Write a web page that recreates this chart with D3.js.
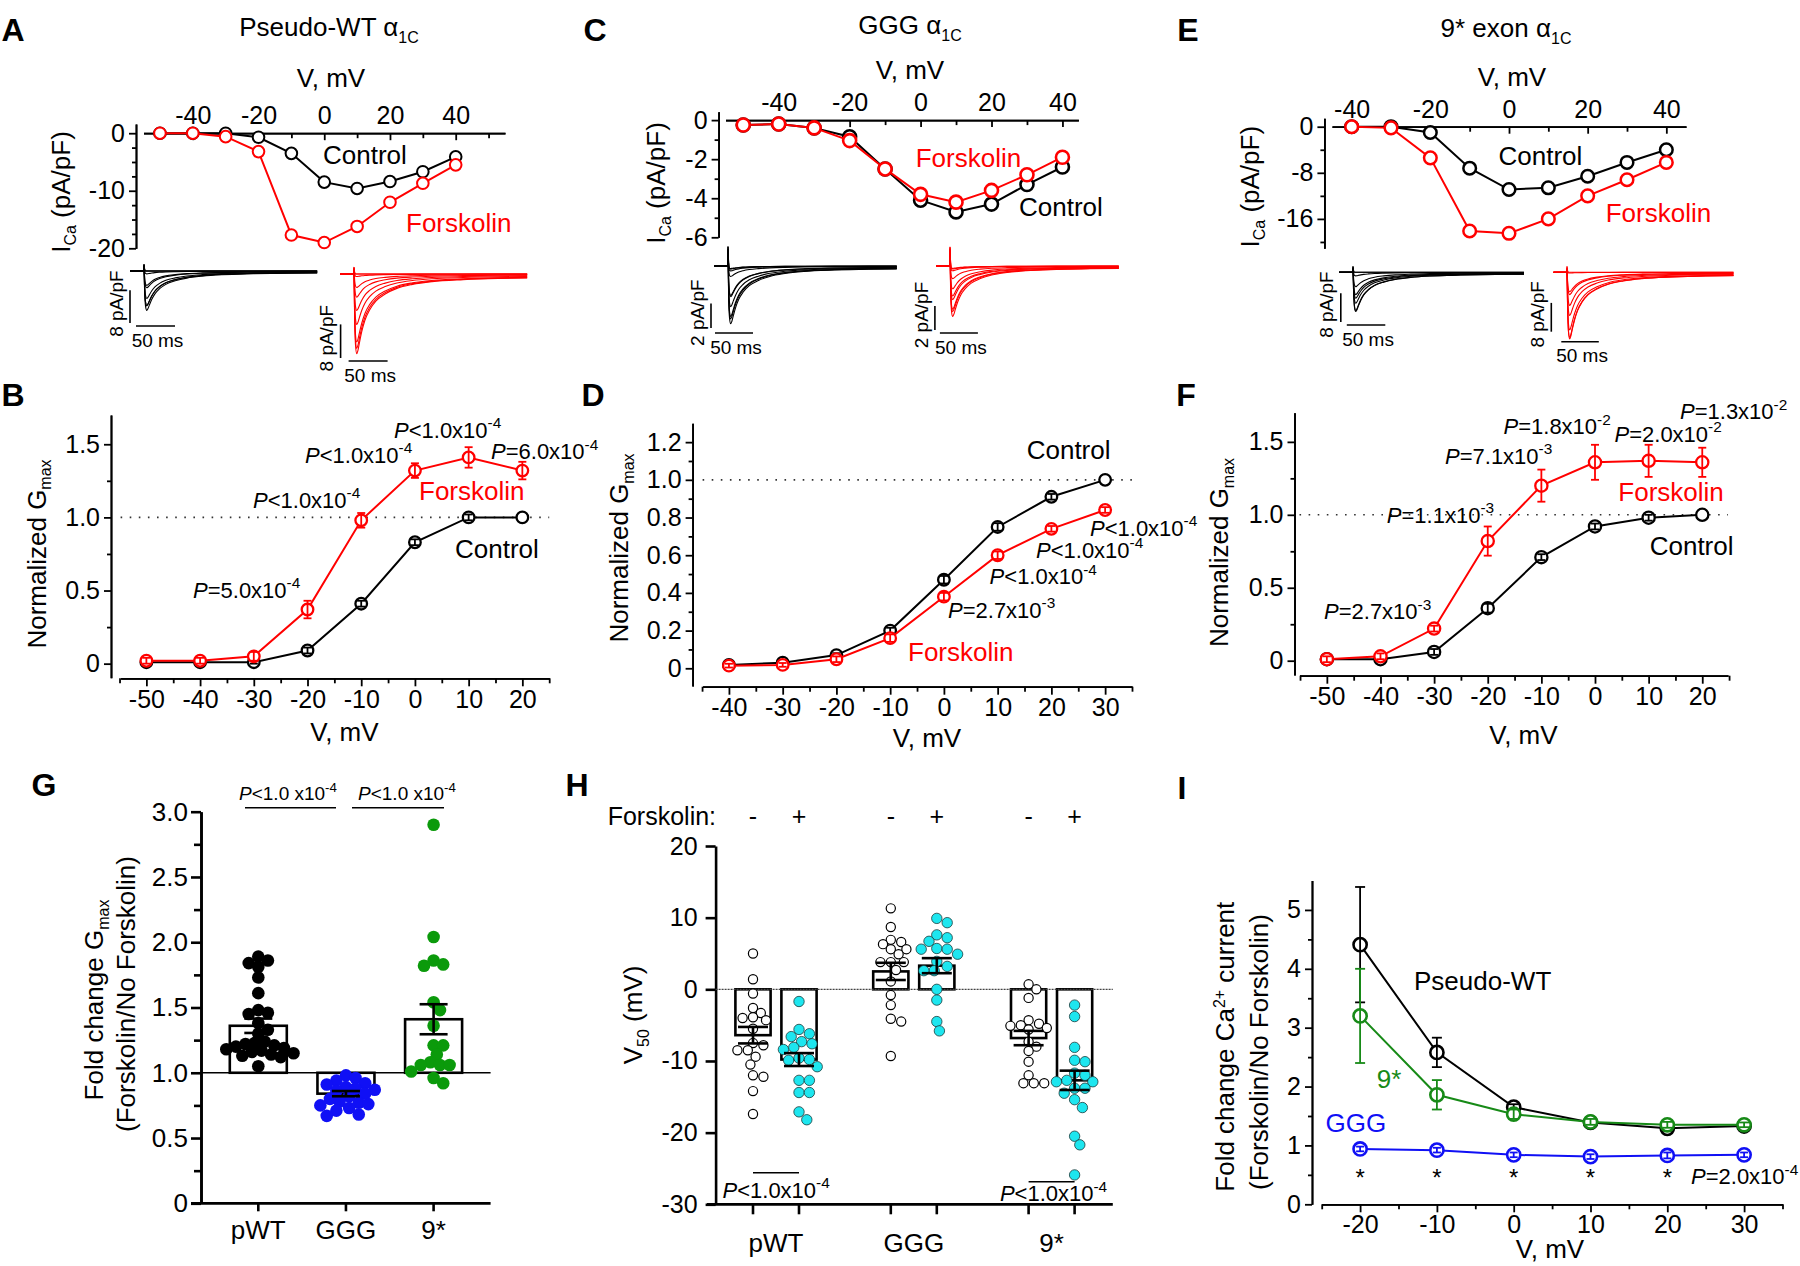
<!DOCTYPE html>
<html>
<head>
<meta charset="utf-8">
<script src="https://cdn.jsdelivr.net/npm/d3@7"></script>
<style>
body { margin: 0; background: #fff; }
svg { display: block; }
text { font-family: "Liberation Sans", Arial, Helvetica, sans-serif; }
</style>
</head>
<body>
<div id="chart"></div>
<script>
// ---- I-V data (pA/pF) ----
const ivVolts = [-50, -40, -30, -20, -10, 0, 10, 20, 30, 40]
const ivWtCtrl = [0, 0, 0, -0.7, -3.5, -8.5, -9.6, -8.4, -6.7, -4.1]
const ivWtFsk = [0, 0, -0.6, -3.2, -17.7, -19, -16.2, -12, -8.7, -5.5]
const ivGggCtrl = [-0.25, -0.2, -0.4, -0.85, -2.5, -4.1, -4.7, -4.3, -3.3, -2.4]
const ivGggFsk = [-0.25, -0.2, -0.4, -1.05, -2.5, -3.8, -4.2, -3.6, -2.8, -1.9]
const ivExVolts = [-40, -30, -20, -10, 0, 10, 20, 30, 40]
const ivExCtrl = [0, 0, -1, -7.2, -10.9, -10.6, -8.6, -6.2, -4]
const ivExFsk = [0, -0.2, -5.4, -18.1, -18.5, -16, -12, -9.2, -6.2]

// normalised current time course
const traceMs = [-18, -0.5, 0, 0.8, 2, 3.5, 5, 7, 10, 14, 20, 28, 40, 55, 75, 100, 140, 185, 222]
const traceShape = [0, 0, 0.1, 0.55, 0.9, 1.0, 0.96, 0.86, 0.72, 0.58, 0.45, 0.34, 0.25, 0.18, 0.13, 0.095, 0.07, 0.055, 0.05]
const traceSpike = [0, 0, 1.6, 0.4, 0, 0, 0, 0, 0, 0, 0, 0, 0, 0, 0, 0, 0, 0, 0]

// ---- normalized Gmax ----
const gvWtVolts = [-50, -40, -30, -20, -10, 0, 10, 20]
const gvWtCtrl = [0.01, 0.01, 0.01, 0.09, 0.41, 0.83, 1.0, 1.0]
const gvWtCtrlErr = [0.01, 0.01, 0.01, 0.02, 0.02, 0.02, 0.02, 0]
const gvWtFsk = [0.02, 0.02, 0.05, 0.37, 0.98, 1.32, 1.41, 1.32]
const gvWtFskErr = [0.02, 0.02, 0.03, 0.06, 0.05, 0.05, 0.07, 0.06]
const gvGggVolts = [-40, -30, -20, -10, 0, 10, 20, 30]
const gvGggCtrl = [0.018, 0.03, 0.07, 0.2, 0.47, 0.75, 0.91, 1.0]
const gvGggCtrlErr = [0.01, 0.01, 0.01, 0.015, 0.02, 0.02, 0.015, 0]
const gvGggFsk = [0.014, 0.018, 0.048, 0.16, 0.38, 0.6, 0.74, 0.84]
const gvGggFskErr = [0.01, 0.01, 0.015, 0.02, 0.02, 0.02, 0.015, 0.015]
const gvExVolts = [-50, -40, -30, -20, -10, 0, 10, 20]
const gvExCtrl = [0.01, 0.01, 0.06, 0.36, 0.71, 0.92, 0.98, 1.0]
const gvExCtrlErr = [0.01, 0.01, 0.02, 0.03, 0.02, 0.02, 0.02, 0]
const gvExFsk = [0.01, 0.03, 0.22, 0.82, 1.2, 1.36, 1.37, 1.36]
const gvExFskErr = [0.02, 0.02, 0.02, 0.1, 0.11, 0.12, 0.11, 0.1]

// P-value labels
const pB = [['=', '5.0', '-4'], ['<', '1.0', '-4'], ['<', '1.0', '-4'], ['<', '1.0', '-4'], ['=', '6.0', '-4']]
const pD = [['=', '2.7', '-3'], ['<', '1.0', '-4'], ['<', '1.0', '-4'], ['<', '1.0', '-4']]
const pF = [['=', '2.7', '-3'], ['=', '1.1', '-3'], ['=', '7.1', '-3'], ['=', '1.8', '-2'], ['=', '2.0', '-2'], ['=', '1.3', '-2']]

// ---- G: fold change Gmax ----
const gCats = ['pWT', 'GGG', '9*']
const gMean = [1.36, 0.84, 1.41]
const gErr = [0.055, 0.02, 0.115]
const gPwt = [1.89, 1.86, 1.84, 1.81, 1.73, 1.61, 1.48, 1.46, 1.45, 1.38, 1.33, 1.30, 1.24, 1.23, 1.22, 1.21, 1.20, 1.19, 1.18, 1.17, 1.16, 1.15, 1.14, 1.13, 1.12, 1.05]
const gGgg = [0.98, 0.96, 0.94, 0.92, 0.91, 0.89, 0.88, 0.87, 0.86, 0.84, 0.82, 0.80, 0.78, 0.77, 0.76, 0.75, 0.73, 0.71, 0.68, 0.67]
const gEx = [2.90, 2.04, 1.86, 1.83, 1.82, 1.54, 1.48, 1.36, 1.21, 1.21, 1.14, 1.08, 1.06, 1.06, 1.06, 1.01, 0.96, 0.92]

// ---- H: V50 ----
const hGroups = ['pWT', 'GGG', '9*']
const hMean = [-6.4, -9.8, 2.5, 3.3, -6.8, -12.7]
const hErr = [1.15, 0.9, 1.2, 1.05, 1.0, 1.35]
const hPwtMinus = [5.0, 1.4, -0.6, -2.6, -3.3, -3.9, -4.0, -4.3, -5.5, -7.5, -7.8, -8.5, -8.5, -9.4, -10.5, -12.0, -12.2, -14.2, -17.4]
const hPwtPlus = [-1.7, -5.6, -6.2, -6.6, -7.3, -7.6, -8.1, -8.4, -9.6, -9.8, -9.9, -10.8, -12.7, -12.7, -14.4, -14.4, -17.1, -18.2]
const hGggMinus = [11.3, 8.7, 6.9, 6.6, 6.3, 5.6, 5.6, 4.9, 3.8, 3.8, 3.8, 2.7, 1.1, -0.8, -2.2, -4.1, -4.5, -9.3]
const hGggPlus = [9.9, 9.3, 7.6, 7.2, 6.7, 5.7, 5.6, 5.6, 4.9, 3.9, 3.2, 2.6, 2.6, 0.0, -1.5, -4.5, -5.8]
const hExMinus = [0.7, 0.0, -1.2, -4.3, -4.8, -5.0, -5.1, -5.4, -5.6, -7.3, -8.0, -8.6, -10.1, -12.0, -13.1, -13.1, -13.1]
const hExPlus = [-2.2, -3.8, -8.1, -9.9, -10.1, -11.7, -12.0, -12.7, -12.9, -12.9, -13.8, -13.8, -14.5, -15.4, -16.5, -20.5, -21.7, -25.9]

// ---- I: fold change current ----
const iVolts = [-20, -10, 0, 10, 20, 30]
const iWt = [4.41, 2.58, 1.65, 1.39, 1.29, 1.33]
const iWtErr = [0.98, 0.25, 0.05, 0.05, 0.04, 0.04]
const iEx = [3.2, 1.86, 1.53, 1.4, 1.35, 1.35]
const iExErr = [0.8, 0.25, 0.08, 0.05, 0.05, 0.04]
const iGgg = [0.94, 0.92, 0.84, 0.81, 0.83, 0.84]
const iGggErr = [0.04, 0.04, 0.04, 0.04, 0.05, 0.04]

const RED = '#ff0000', BLUE = '#1010f5', GREEN = '#0b9a0b', IGREEN = '#178a17', CYAN = '#1de6ef'

const svg = d3.select('#chart').append('svg').attr('width', 1800).attr('height', 1266)

const txt = (x, y, s, o = {}) => svg.append('text').attr('x', x).attr('y', y).attr('dy', '0.35em')
  .attr('font-size', o.size || 26).attr('fill', o.color || '#000').attr('text-anchor', o.anchor || 'start').text(s)

const letter = (s, x, y) => svg.append('text').attr('x', x).attr('y', y).attr('dy', '0.35em')
  .attr('text-anchor', 'middle').attr('font-size', 32).attr('font-weight', 'bold').text(s)

const pText = (x, y, p, size = 22) => {
  const t = svg.append('text').attr('x', x).attr('y', y).attr('dy', '0.35em').attr('font-size', size)
  t.append('tspan').attr('font-style', 'italic').text('P')
  t.append('tspan').text(p[0] + p[1] + 'x10')
  t.append('tspan').attr('dy', -size * 0.42).attr('font-size', size * 0.7).text(p[2])
}

const title = (cx, cy, s) => {
  const t = svg.append('text').attr('x', cx).attr('y', cy).attr('dy', '0.35em').attr('text-anchor', 'middle').attr('font-size', 26)
  t.append('tspan').text(s + ' α')
  t.append('tspan').attr('dy', 7).attr('font-size', 16).text('1C')
}

const rotLabel = (x, y, parts, size = 26) => {
  const t = svg.append('text').attr('transform', `translate(${x},${y}) rotate(-90)`)
    .attr('text-anchor', 'middle').attr('dy', '0.35em').attr('font-size', size)
  parts.forEach(p => {
    const s = t.append('tspan').text(p.t)
    if (p.dy) s.attr('dy', p.dy)
    if (p.fs) s.attr('font-size', p.fs)
  })
}

const fmt = d => String(d)
const fmt1 = d => d === 0 ? '0' : d.toFixed(1)

const styleAxis = (sel, w = 1.8, size = 25) => {
  sel.attr('font-size', size)
  sel.selectAll('path, line').attr('stroke', '#000').attr('stroke-width', w)
  sel.selectAll('text').attr('fill', '#000')
}

function series(g, x, y, xs, ys, errs, color, r, sw, cap = 4) {
  const pts = xs.map((v, i) => ({ v, m: ys[i], e: errs ? errs[i] : 0 }))
  g.append('path').datum(pts).attr('fill', 'none').attr('stroke', color).attr('stroke-width', 2)
    .attr('d', d3.line().x(d => x(d.v)).y(d => y(d.m)))
  g.selectAll(null).data(pts).join('circle')
    .attr('cx', d => x(d.v)).attr('cy', d => y(d.m)).attr('r', r)
    .attr('fill', '#fff').attr('stroke', color).attr('stroke-width', sw)
  if (!errs) return
  const eg = g.append('g').attr('stroke', color).attr('stroke-width', 1.8)
  pts.filter(d => d.e > 0).forEach(d => {
    const cx = x(d.v), lo = y(d.m - d.e), hi = y(d.m + d.e)
    eg.append('line').attr('x1', cx).attr('x2', cx).attr('y1', lo).attr('y2', hi)
    eg.append('line').attr('x1', cx - cap).attr('x2', cx + cap).attr('y1', lo).attr('y2', lo)
    eg.append('line').attr('x1', cx - cap).attr('x2', cx + cap).attr('y1', hi).attr('y2', hi)
  })
}

// ---------- I-V panels with example traces ----------
function traces(f) {
  const g = svg.append('g')
  const tx = d3.scaleLinear().domain([0, 50]).range([f.stepX, f.stepX + 50 * f.pxMs])
  const ty = d3.scaleLinear().domain([0, 1]).range([f.base, f.base + f.pxUnit])
  const line = d3.line().x(d => tx(d[0])).y(d => ty(d[1])).curve(d3.curveMonotoneX)
  f.amps.forEach(a => {
    const pts = traceMs.map((t, i) => [t, Math.abs(a) * traceShape[i] - traceSpike[i]])
    g.append('path').attr('d', line(pts)).attr('fill', 'none').attr('stroke', f.color).attr('stroke-width', 1.1)
  })
  const vTop = f.barY - f.unit * f.pxUnit
  g.append('line').attr('x1', f.barX).attr('x2', f.barX).attr('y1', f.barY).attr('y2', vTop)
    .attr('stroke', '#000').attr('stroke-width', 1.6)
  svg.append('text').attr('transform', `translate(${f.barX - 14},${(f.barY + vTop) / 2 - 3}) rotate(-90)`)
    .attr('text-anchor', 'middle').attr('dy', '0.35em').attr('font-size', 19).text(`${f.unit} pA/pF`)
  const hx0 = f.barX + f.hOff, hx1 = hx0 + 50 * f.pxMs
  g.append('line').attr('x1', hx0).attr('x2', hx1).attr('y1', f.hY).attr('y2', f.hY)
    .attr('stroke', '#000').attr('stroke-width', 1.6)
  txt((hx0 + hx1) / 2 + 2, f.hY + 14, '50 ms', { size: 19, anchor: 'middle' })
}

function ivPanel(o) {
  const g = svg.append('g')
  const x = d3.scaleLinear().domain(o.xDom).range(o.xRange)
  const y = d3.scaleLinear().domain(o.yDom).range(o.yRange)
  const y0 = y(0)
  g.append('g').attr('transform', `translate(0,${y0})`)
    .call(d3.axisTop(x).tickValues(o.xMinor).tickSize(-5).tickFormat('').tickSizeOuter(0)).call(styleAxis)
  g.append('g').attr('transform', `translate(0,${y0})`)
    .call(d3.axisTop(x).tickValues(o.xMajor).tickSize(-7).tickPadding(9).tickSizeOuter(0).tickFormat(fmt)).call(styleAxis)
  g.append('g').attr('transform', `translate(${o.yAxisX},0)`)
    .call(d3.axisLeft(y).tickValues(o.yMinor).tickSize(4).tickFormat('').tickSizeOuter(0)).call(styleAxis)
  g.append('g').attr('transform', `translate(${o.yAxisX},0)`)
    .call(d3.axisLeft(y).tickValues(o.yMajor).tickSize(7).tickPadding(4).tickSizeOuter(0).tickFormat(fmt)).call(styleAxis)
  series(g, x, y, o.volts, o.ctrl, null, '#000', o.r, o.sw)
  series(g, x, y, o.volts, o.fsk, null, RED, o.r, o.sw)
  title(o.title[0], o.title[1], o.title[2])
  txt(o.vLab[0], o.vLab[1], 'V, mV', { anchor: 'middle' })
  rotLabel(o.yLab[0], o.yLab[1], [{ t: 'I' }, { t: 'Ca', dy: 6, fs: 16 }, { t: ' (pA/pF)', dy: -6, fs: 26 }])
  txt(o.ctrlLab[0], o.ctrlLab[1], 'Control')
  txt(o.fskLab[0], o.fskLab[1], 'Forskolin', { color: RED })
  o.traces.forEach(traces)
}

ivPanel({
  xDom: [-55, 55], xRange: [143.5, 505], yDom: [-20, 1.6], yRange: [248.3, 124], yAxisX: 136,
  xMajor: [-40, -20, 0, 20, 40], xMinor: [-50, -30, -10, 10, 30, 50],
  yMajor: [0, -10, -20], yMinor: [-2.5, -5, -7.5, -12.5, -15, -17.5],
  volts: ivVolts, ctrl: ivWtCtrl, fsk: ivWtFsk, r: 5.8, sw: 2,
  title: [329, 27, 'Pseudo-WT'], vLab: [331, 78], yLab: [61, 192],
  ctrlLab: [323, 155], fskLab: [406, 223],
  traces: [
    { amps: ivWtCtrl, color: '#000', stepX: 144, pxMs: 0.78, base: 271, pxUnit: 4.1, unit: 8, barX: 130, barY: 323, hOff: 6, hY: 326 },
    { amps: ivWtFsk, color: RED, stepX: 354, pxMs: 0.78, base: 274, pxUnit: 4.2, unit: 8, barX: 340.6, barY: 358, hOff: 8, hY: 361 }
  ]
})

ivPanel({
  xDom: [-55, 44.5], xRange: [725.5, 1078.4], yDom: [-6, 0.43], yRange: [237.3, 111.7], yAxisX: 718.6,
  xMajor: [-40, -20, 0, 20, 40], xMinor: [-50, -30, -10, 10, 30],
  yMajor: [0, -2, -4, -6], yMinor: [-1, -3, -5],
  volts: ivVolts, ctrl: ivGggCtrl, fsk: ivGggFsk, r: 6.5, sw: 2.6,
  title: [910, 25, 'GGG'], vLab: [910, 70], yLab: [655.5, 183],
  ctrlLab: [1019, 207], fskLab: [915.7, 158],
  traces: [
    { amps: ivGggCtrl, color: '#000', stepX: 728, pxMs: 0.76, base: 266, pxUnit: 12.3, unit: 2, barX: 711, barY: 328, hOff: 4, hY: 333 },
    { amps: ivGggFsk, color: RED, stepX: 950, pxMs: 0.76, base: 266, pxUnit: 12, unit: 2, barX: 934.9, barY: 330, hOff: 5, hY: 333 }
  ]
})

ivPanel({
  xDom: [-45, 45], xRange: [1332, 1686], yDom: [-21.1, 1.46], yRange: [248.3, 118.3], yAxisX: 1324.4,
  xMajor: [-40, -20, 0, 20, 40], xMinor: [-30, -10, 10, 30],
  yMajor: [0, -8, -16], yMinor: [-4, -12, -20],
  volts: ivExVolts, ctrl: ivExCtrl, fsk: ivExFsk, r: 6.3, sw: 2.5,
  title: [1506, 28, '9* exon'], vLab: [1512, 77], yLab: [1249.8, 186.7],
  ctrlLab: [1498.5, 156], fskLab: [1605.7, 212.7],
  traces: [
    { amps: ivExCtrl, color: '#000', stepX: 1353, pxMs: 0.77, base: 272.3, pxUnit: 3.6, unit: 8, barX: 1340.8, barY: 322, hOff: 6, hY: 325 },
    { amps: ivExFsk, color: RED, stepX: 1567, pxMs: 0.75, base: 272.3, pxUnit: 3.6, unit: 8, barX: 1551.3, barY: 331.7, hOff: 10, hY: 341.7 }
  ]
})

// ---------- normalized Gmax panels ----------
function gvPanel(o) {
  const g = svg.append('g')
  const x = d3.scaleLinear().domain(o.xDom).range(o.xRange)
  const y = d3.scaleLinear().domain(o.yDom).range(o.yRange)
  g.append('g').attr('transform', `translate(0,${o.xAxisY})`)
    .call(d3.axisBottom(x).tickValues(o.xMinor).tickSize(5).tickFormat('').tickSizeOuter(0)).call(styleAxis)
  g.append('g').attr('transform', `translate(0,${o.xAxisY})`)
    .call(d3.axisBottom(x).tickValues(o.xMajor).tickSize(8).tickPadding(4).tickSizeOuter(0).tickFormat(fmt)).call(styleAxis)
  g.append('g').attr('transform', `translate(${o.yAxisX},0)`)
    .call(d3.axisLeft(y).tickValues(o.yMinor).tickSize(4).tickFormat('').tickSizeOuter(0)).call(styleAxis)
  g.append('g').attr('transform', `translate(${o.yAxisX},0)`)
    .call(d3.axisLeft(y).tickValues(o.yMajor).tickSize(7).tickPadding(4).tickSizeOuter(0).tickFormat(fmt1)).call(styleAxis)
  g.append('line').attr('x1', o.xRange[0]).attr('x2', o.xRange[1]).attr('y1', y(1)).attr('y2', y(1))
    .attr('stroke', '#333').attr('stroke-width', 1.6).attr('stroke-dasharray', '1.6,7.5')
  series(g, x, y, o.volts, o.ctrl, o.ctrlErr, '#000', o.r, 2.3)
  series(g, x, y, o.volts, o.fsk, o.fskErr, RED, o.r, 2.3)
  txt(o.vLab[0], o.vLab[1], 'V, mV', { anchor: 'middle' })
  rotLabel(o.yLab[0], o.yLab[1], [{ t: 'Normalized G' }, { t: 'max', dy: 6, fs: 16 }])
  txt(o.ctrlLab[0], o.ctrlLab[1], 'Control')
  txt(o.fskLab[0], o.fskLab[1], 'Forskolin', { color: RED })
  o.pPos.forEach((p, i) => pText(p[0], p[1], o.pVals[i]))
}

const tens = (a, b) => d3.range(a, b + 1, 10)

gvPanel({
  xDom: [-54.8, 25], xRange: [120.6, 549.2], yDom: [-0.096, 1.7], yRange: [677.7, 415], yAxisX: 111, xAxisY: 678.3,
  xMajor: tens(-50, 20), xMinor: tens(-55, 25), yMajor: [0, 0.5, 1, 1.5], yMinor: [0.25, 0.75, 1.25],
  volts: gvWtVolts, ctrl: gvWtCtrl, ctrlErr: gvWtCtrlErr, fsk: gvWtFsk, fskErr: gvWtFskErr, r: 5.8,
  vLab: [344.4, 731.7], yLab: [36.4, 554], ctrlLab: [455, 549], fskLab: [419, 491],
  pVals: pB, pPos: [[193, 590], [253, 500], [305, 455], [394, 430], [491, 451.7]]
})

gvPanel({
  xDom: [-44.9, 35], xRange: [702.6, 1132], yDom: [-0.094, 1.3], yRange: [686, 423.3], yAxisX: 692.6, xAxisY: 686.7,
  xMajor: tens(-40, 30), xMinor: tens(-45, 35), yMajor: [0, 0.2, 0.4, 0.6, 0.8, 1.0, 1.2], yMinor: [0.1, 0.3, 0.5, 0.7, 0.9, 1.1],
  volts: gvGggVolts, ctrl: gvGggCtrl, ctrlErr: gvGggCtrlErr, fsk: gvGggFsk, fskErr: gvGggFskErr, r: 5.8,
  vLab: [927, 738], yLab: [619, 548], ctrlLab: [1026.7, 450], fskLab: [908, 651.7],
  pVals: pD, pPos: [[948, 610], [989.6, 576.7], [1036, 550], [1090, 528]]
})

gvPanel({
  xDom: [-55.1, 24.8], xRange: [1299.5, 1728], yDom: [-0.098, 1.7], yRange: [675, 412.7], yAxisX: 1294.5, xAxisY: 675.7,
  xMajor: tens(-50, 20), xMinor: tens(-55, 25), yMajor: [0, 0.5, 1, 1.5], yMinor: [0.25, 0.75, 1.25],
  volts: gvExVolts, ctrl: gvExCtrl, ctrlErr: gvExCtrlErr, fsk: gvExFsk, fskErr: gvExFskErr, r: 6.1,
  vLab: [1523.4, 735], yLab: [1219, 552.5], ctrlLab: [1649.7, 545.7], fskLab: [1618.3, 491.7],
  pVals: pF, pPos: [[1324, 611.7], [1386.8, 515], [1445, 456], [1503.5, 426.7], [1614.5, 434], [1680, 411.7]]
})

// simple dodge so dots of one column do not sit on top of each other
function swarm(vals, y, step, minD) {
  const placed = []
  return vals.map(v => {
    const py = y(v)
    let best = 0
    for (let k = 0; k < 80; k++) {
      const cand = (k % 2 ? 1 : -1) * Math.ceil(k / 2) * step
      if (placed.every(p => Math.hypot(p.dx - cand, p.py - py) >= minD)) { best = cand; break }
    }
    placed.push({ dx: best, py })
    return { v, dx: best, py }
  })
}

// ---------- G ----------
{
  const g = svg.append('g')
  const x = d3.scalePoint().domain(gCats).range([258.3, 433.6])
  const y = d3.scaleLinear().domain([0, 3]).range([1203.3, 811.7])
  g.append('g').attr('transform', 'translate(201,0)')
    .call(d3.axisLeft(y).tickValues(d3.range(0.25, 3, 0.5)).tickSize(7).tickFormat('').tickSizeOuter(0)).call(s => styleAxis(s, 2.6))
  g.append('g').attr('transform', 'translate(201,0)')
    .call(d3.axisLeft(y).tickValues(d3.range(0, 3.01, 0.5)).tickSize(10).tickPadding(3).tickSizeOuter(0).tickFormat(fmt1)).call(s => styleAxis(s, 2.6, 26))
  g.append('line').attr('x1', 191).attr('x2', 490.6).attr('y1', y(0)).attr('y2', y(0)).attr('stroke', '#000').attr('stroke-width', 2.8)
  gCats.forEach(c => g.append('line').attr('x1', x(c)).attr('x2', x(c)).attr('y1', y(0)).attr('y2', y(0) + 8).attr('stroke', '#000').attr('stroke-width', 2.6))
  gCats.forEach(c => txt(x(c), 1230, c, { anchor: 'middle' }))
  gCats.forEach((c, i) => {
    g.append('rect').attr('x', x(c) - 28.5).attr('width', 57)
      .attr('y', Math.min(y(1), y(gMean[i]))).attr('height', Math.abs(y(1) - y(gMean[i])))
      .attr('fill', '#fff').attr('stroke', '#000').attr('stroke-width', 2.6)
  })
  g.append('line').attr('x1', 201).attr('x2', 490.6).attr('y1', y(1)).attr('y2', y(1)).attr('stroke', '#000').attr('stroke-width', 1.6)
  const cols = ['#000', BLUE, GREEN]
  ;[gPwt, gGgg, gEx].forEach((vals, i) => {
    swarm(vals, y, 3.2, 9.5).forEach(d => g.append('circle').attr('cx', x(gCats[i]) + d.dx).attr('cy', d.py)
      .attr('r', 6.3).attr('fill', cols[i]))
  })
  gCats.forEach((c, i) => {
    const lo = y(gMean[i] - gErr[i]), hi = y(gMean[i] + gErr[i]), cx = x(c)
    g.append('line').attr('x1', cx).attr('x2', cx).attr('y1', lo).attr('y2', hi).attr('stroke', '#000').attr('stroke-width', 2.6)
    ;[lo, hi].forEach(yy => g.append('line').attr('x1', cx - 14).attr('x2', cx + 14).attr('y1', yy).attr('y2', yy).attr('stroke', '#000').attr('stroke-width', 2.6))
  })
  pText(239, 793, ['<', '1.0 ', '-4'], 19)
  pText(358, 793, ['<', '1.0 ', '-4'], 19)
  g.append('line').attr('x1', 245).attr('x2', 336).attr('y1', 807.7).attr('y2', 807.7).attr('stroke', '#000').attr('stroke-width', 1.5)
  g.append('line').attr('x1', 352).attr('x2', 444).attr('y1', 807.7).attr('y2', 807.7).attr('stroke', '#000').attr('stroke-width', 1.5)
  rotLabel(93.8, 1000, [{ t: 'Fold change G' }, { t: 'max', dy: 6, fs: 16 }])
  rotLabel(126.3, 994, [{ t: '(Forskolin/No Forskolin)' }])
}

// ---------- H ----------
{
  const g = svg.append('g')
  const gx = d3.scalePoint().domain(hGroups).range([776, 1051.6])
  const y = d3.scaleLinear().domain([-30, 20]).range([1204.3, 846])
  const bars = []
  hGroups.forEach(c => { bars.push({ c, s: '-', x: gx(c) - 23 }); bars.push({ c, s: '+', x: gx(c) + 23 }) })
  const sets = [hPwtMinus, hPwtPlus, hGggMinus, hGggPlus, hExMinus, hExPlus]
  g.append('g').attr('transform', 'translate(715.6,0)')
    .call(d3.axisLeft(y).tickValues(d3.range(-30, 21, 10)).tickSize(10).tickPadding(8).tickSizeOuter(0).tickFormat(fmt)).call(s => styleAxis(s, 2.6))
  g.append('line').attr('x1', 707).attr('x2', 1112.8).attr('y1', y(-30)).attr('y2', y(-30)).attr('stroke', '#000').attr('stroke-width', 2.8)
  bars.forEach(b => g.append('line').attr('x1', b.x).attr('x2', b.x).attr('y1', y(-30)).attr('y2', y(-30) + 10).attr('stroke', '#000').attr('stroke-width', 2.6))
  hGroups.forEach(c => txt(gx(c), 1243.3, c, { anchor: 'middle' }))
  txt(607.7, 816, 'Forskolin:', { size: 25 })
  bars.forEach(b => txt(b.x, 816, b.s, { size: 25, anchor: 'middle' }))
  bars.forEach((b, i) => {
    g.append('rect').attr('x', b.x - 17.6).attr('width', 35.2)
      .attr('y', Math.min(y(0), y(hMean[i]))).attr('height', Math.abs(y(0) - y(hMean[i])))
      .attr('fill', '#fff').attr('stroke', '#000').attr('stroke-width', 2.6)
  })
  g.append('line').attr('x1', 715.6).attr('x2', 1112.8).attr('y1', y(0)).attr('y2', y(0))
    .attr('stroke', '#444').attr('stroke-width', 1.3).attr('stroke-dasharray', '2,1')
  bars.forEach((b, i) => {
    const plus = b.s === '+'
    swarm(sets[i], y, 2.6, plus ? 9.6 : 8.8).forEach(d => g.append('circle')
      .attr('cx', b.x + d.dx).attr('cy', d.py).attr('r', plus ? 5.2 : 4.6)
      .attr('fill', plus ? CYAN : '#fff').attr('stroke', plus ? '#1b3b3b' : '#000').attr('stroke-width', plus ? 0.8 : 1.2))
  })
  bars.forEach((b, i) => {
    const lo = y(hMean[i] - hErr[i]), hi = y(hMean[i] + hErr[i])
    g.append('line').attr('x1', b.x).attr('x2', b.x).attr('y1', lo).attr('y2', hi).attr('stroke', '#000').attr('stroke-width', 2.6)
    ;[lo, hi].forEach(yy => g.append('line').attr('x1', b.x - 15).attr('x2', b.x + 15).attr('y1', yy).attr('y2', yy).attr('stroke', '#000').attr('stroke-width', 2.6))
  })
  g.append('line').attr('x1', bars[0].x).attr('x2', bars[1].x).attr('y1', y(-25.6)).attr('y2', y(-25.6)).attr('stroke', '#000').attr('stroke-width', 1.4)
  g.append('line').attr('x1', bars[4].x).attr('x2', bars[5].x).attr('y1', y(-26.85)).attr('y2', y(-26.85)).attr('stroke', '#000').attr('stroke-width', 1.4)
  pText(722.5, 1190, ['<', '1.0', '-4'])
  pText(999.9, 1193.3, ['<', '1.0', '-4'])
  rotLabel(632.5, 1015, [{ t: 'V' }, { t: '50', dy: 7, fs: 16 }, { t: ' (mV)', dy: -7, fs: 26 }])
}

// ---------- I ----------
{
  const g = svg.append('g')
  const x = d3.scaleLinear().domain([-25, 35]).range([1321.7, 1782.5])
  const y = d3.scaleLinear().domain([0, 5.5]).range([1204.3, 880.5])
  g.append('g').attr('transform', 'translate(0,1204.3)')
    .call(d3.axisBottom(x).tickValues(tens(-25, 35)).tickSize(5).tickFormat('').tickSizeOuter(0)).call(styleAxis)
  g.append('g').attr('transform', 'translate(0,1204.3)')
    .call(d3.axisBottom(x).tickValues(tens(-20, 30)).tickSize(8).tickPadding(3).tickSizeOuter(0).tickFormat(fmt)).call(styleAxis)
  g.append('g').attr('transform', 'translate(1312,0)')
    .call(d3.axisLeft(y).tickValues(d3.range(0.5, 5.5, 1)).tickSize(4).tickFormat('').tickSizeOuter(0)).call(styleAxis)
  g.append('g').attr('transform', 'translate(1312,0)')
    .call(d3.axisLeft(y).tickValues(d3.range(0, 6, 1)).tickSize(7).tickPadding(4).tickSizeOuter(0).tickFormat(fmt)).call(styleAxis)
  series(g, x, y, iVolts, iWt, iWtErr, '#000', 6.6, 2.6, 5)
  series(g, x, y, iVolts, iEx, iExErr, IGREEN, 6.6, 2.6, 5)
  series(g, x, y, iVolts, iGgg, iGggErr, BLUE, 6.6, 2.6, 4)
  iVolts.slice(0, 5).forEach(v => txt(x(v), 1178, '*', { size: 24, anchor: 'middle' }))
  pText(1691, 1176.7, ['=', '2.0', '-4'])
  txt(1414, 980.7, 'Pseudo-WT')
  txt(1376.8, 1079.3, '9*', { color: IGREEN })
  txt(1325.5, 1122.7, 'GGG', { color: BLUE })
  txt(1550, 1249, 'V, mV', { anchor: 'middle' })
  rotLabel(1224.9, 1046.7, [{ t: 'Fold change Ca' }, { t: '2+', dy: -9, fs: 16 }, { t: ' current', dy: 9, fs: 26 }])
  rotLabel(1259.3, 1052, [{ t: '(Forskolin/No Forskolin)' }])
}

// panel letters
letter('A', 13, 30); letter('C', 595, 30); letter('E', 1188, 30)
letter('B', 13, 395); letter('D', 593, 395); letter('F', 1186, 395)
letter('G', 44, 785); letter('H', 577, 785); letter('I', 1182, 788)
</script>
</body>
</html>
